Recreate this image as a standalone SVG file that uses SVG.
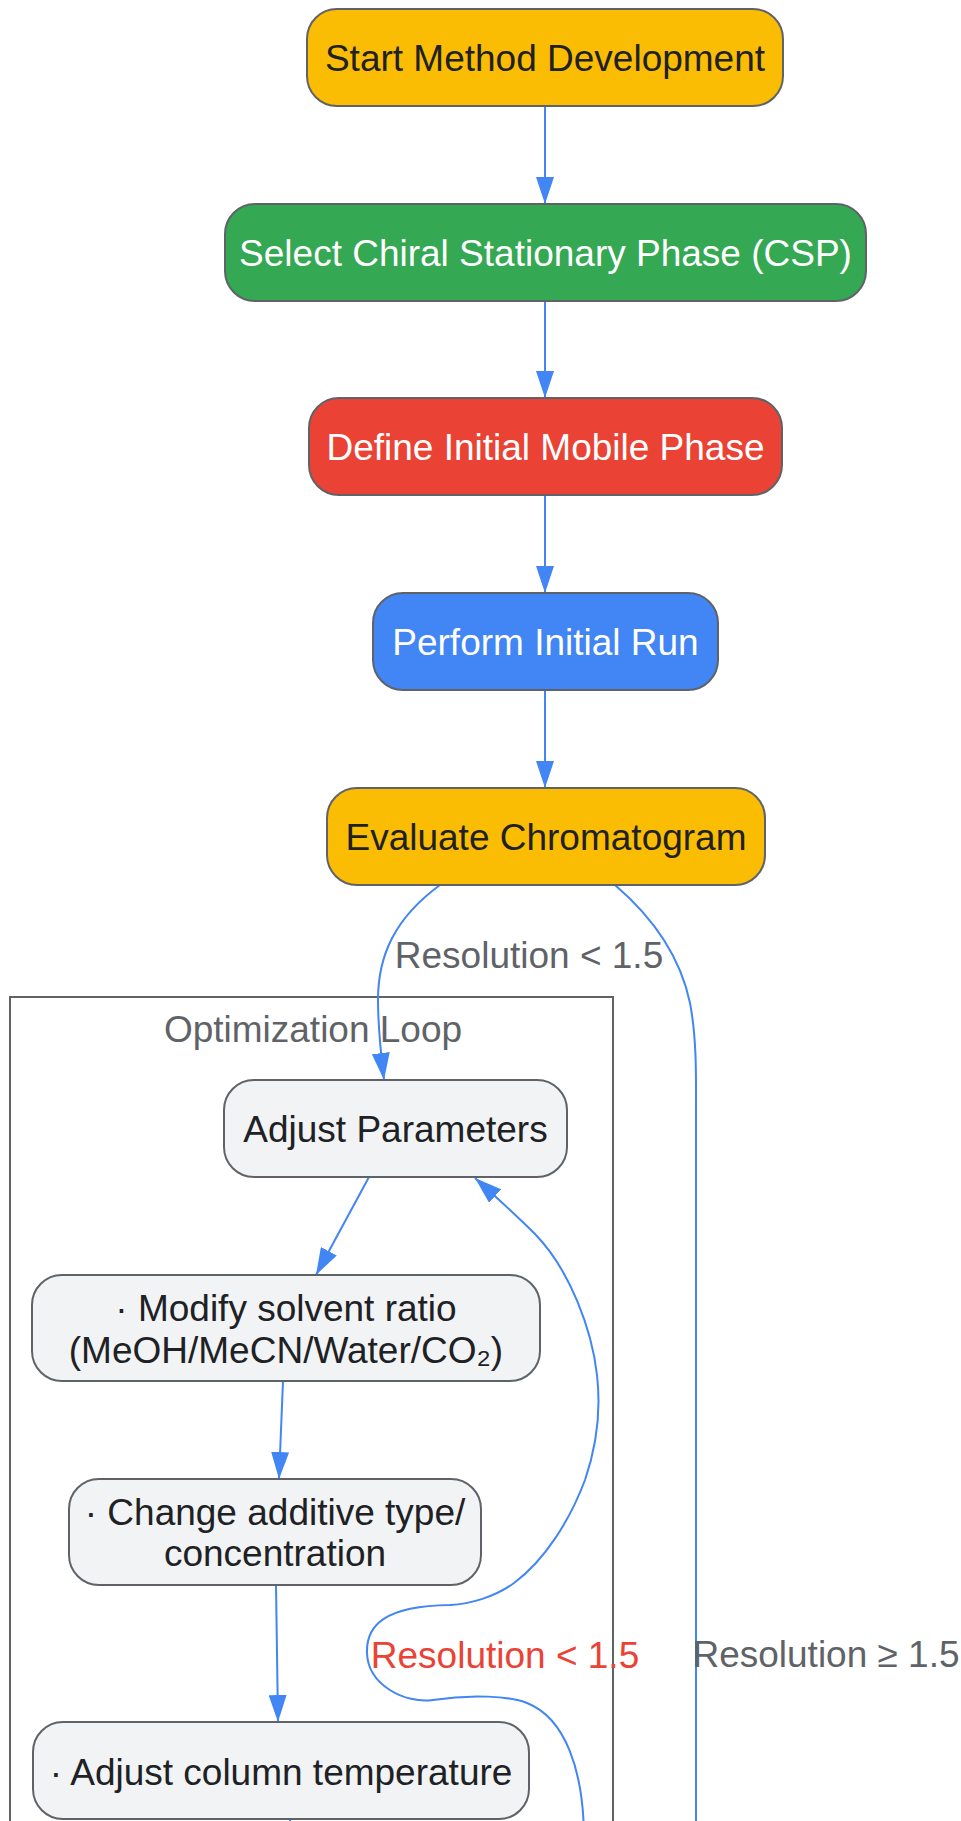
<svg xmlns="http://www.w3.org/2000/svg" width="961" height="1821" viewBox="0 0 961 1821">
<style>
.n rect{stroke:#5f6368;stroke-width:2}
.t{font-family:"Liberation Sans",Arial,sans-serif;font-size:37px;text-anchor:middle}
.dk{fill:#202124}
.wh{fill:#ffffff}
.gy{fill:#5f6368}
.rd{fill:#ea4335}
.e{fill:none;stroke:#4285f4;stroke-width:2}
</style>
<defs>
<marker id="ah" markerUnits="userSpaceOnUse" markerWidth="27" markerHeight="18" refX="27" refY="9" orient="auto">
<path d="M0,0 L27,9 L0,18 z" fill="#4285f4"/>
</marker>
</defs>
<rect width="961" height="1821" fill="#ffffff"/>
<g id="cluster-optimization">
<rect x="10" y="997" width="603" height="900" fill="none" stroke="#5f6368" stroke-width="2"/>
<text class="t gy" x="313" y="1042">Optimization Loop</text>
</g>
<g id="connectors">
<path class="e" d="M545,106 L545,204" marker-end="url(#ah)"/>
<path class="e" d="M545,301 L545,398" marker-end="url(#ah)"/>
<path class="e" d="M545,495 L545,593" marker-end="url(#ah)"/>
<path class="e" d="M545,690 L545,788" marker-end="url(#ah)"/>
<path class="e" d="M440,885 C395,918 378,955 378,1000 C378,1030 381,1055 384,1080" marker-end="url(#ah)"/>
<path class="e" d="M615,885 C650,915 680,955 690,1003 C697,1040 696,1080 696,1110 L696,1840"/>
<path class="e" d="M369,1177 L316,1275" marker-end="url(#ah)"/>
<path class="e" d="M283,1381 L279,1479" marker-end="url(#ah)"/>
<path class="e" d="M276,1585 L278,1722" marker-end="url(#ah)"/>
<path class="e" d="M290,1819 L291,1840"/>
<path class="e" d="M584,1840 C584,1770 565,1718 527,1703 C510,1696 470,1694 433,1700 C405,1704 368,1685 367,1653 C366,1625 385,1606 450,1605 C470,1604 495,1597 514,1583 C545,1560 570,1520 585,1480 C597,1445 601,1410 597,1375 C592,1330 570,1270 535,1234 C515,1214 495,1196 475,1178" marker-end="url(#ah)"/>
<text class="t gy" x="529" y="968">Resolution &lt; 1.5</text>
<text class="t rd" x="505" y="1668">Resolution &lt; 1.5</text>
<text class="t gy" x="826" y="1667">Resolution ≥ 1.5</text>
</g>
<g id="start" class="n">
<rect x="307" y="9" width="476" height="97" rx="30" fill="#fbbc04"/>
<text class="t dk" x="545" y="71">Start Method Development</text>
</g>
<g id="csp" class="n">
<rect x="225" y="204" width="641" height="97" rx="30" fill="#34a853"/>
<text class="t wh" x="545.5" y="266">Select Chiral Stationary Phase (CSP)</text>
</g>
<g id="define" class="n">
<rect x="309" y="398" width="473" height="97" rx="30" fill="#ea4335"/>
<text class="t wh" x="545.5" y="460">Define Initial Mobile Phase</text>
</g>
<g id="perform" class="n">
<rect x="373" y="593" width="345" height="97" rx="30" fill="#4285f4"/>
<text class="t wh" x="545.5" y="655">Perform Initial Run</text>
</g>
<g id="evaluate" class="n">
<rect x="327" y="788" width="438" height="97" rx="30" fill="#fbbc04"/>
<text class="t dk" x="546" y="850">Evaluate Chromatogram</text>
</g>
<g id="adjust" class="n">
<rect x="224" y="1080" width="343" height="97" rx="30" fill="#f1f3f4"/>
<text class="t dk" x="395.5" y="1142">Adjust Parameters</text>
</g>
<g id="modify" class="n">
<rect x="32" y="1275" width="508" height="106" rx="30" fill="#f1f3f4"/>
<text class="t dk" x="286" y="1321">· Modify solvent ratio</text>
<text class="t dk" x="286" y="1363">(MeOH/MeCN/Water/CO₂)</text>
</g>
<g id="additive" class="n">
<rect x="69" y="1479" width="412" height="106" rx="30" fill="#f1f3f4"/>
<text class="t dk" x="275" y="1525">· Change additive type/</text>
<text class="t dk" x="275" y="1566">concentration</text>
</g>
<g id="temperature" class="n">
<rect x="33" y="1722" width="496" height="97" rx="30" fill="#f1f3f4"/>
<text class="t dk" x="281" y="1785">· Adjust column temperature</text>
</g>
</svg>
